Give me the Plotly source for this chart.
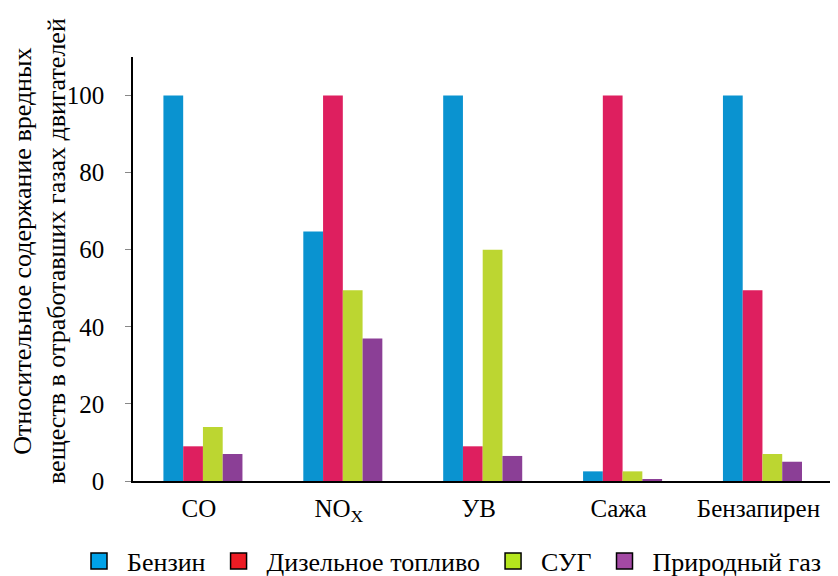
import plotly.graph_objects as go

categories = ["CO", "NO<sub>X</sub>", "УВ", "Сажа", "Бензапирен"]
series_names = ["Бензин", "Дизельное топливо", "СУГ", "Природный газ"]
benzin = [100, 64.7, 100, 2.5, 100]
diesel = [9, 100, 9, 100, 49.5]
sug = [14, 49.5, 60, 2.5, 7]
gas = [7, 37, 6.5, 0.4, 5]
y_ticks = [0, 20, 40, 60, 80, 100]

bar_colors = ["#0a93d0", "#de1f5f", "#bcd631", "#8b3f96"]
legend_colors = ["#00a2e8", "#ed1c24", "#b5e61d", "#a349a4"]
values = [benzin, diesel, sug, gas]

fig = go.Figure()
for name, vals, c in zip(series_names, values, bar_colors):
    fig.add_trace(go.Bar(x=list(range(len(categories))), y=vals, name=name,
                         marker=dict(color=c, line=dict(width=0)), showlegend=False))
for name, c in zip(series_names, legend_colors):
    fig.add_trace(go.Scatter(x=[None], y=[None], mode="markers", name=name,
                             marker=dict(symbol="square", size=19, color=c,
                                         line=dict(color="black", width=1.5))))

font_family = "Times New Roman, Liberation Serif, serif"
# page has an 8px body margin: figure coords = page coords - 8
W, H = 830, 568
L, R, T, B = 125, 0, 49, 95
PW, PH = W - L - R, H - T - B
fig.update_layout(
    width=W, height=H,
    margin=dict(l=L, r=R, t=T, b=B, autoexpand=False),
    paper_bgcolor="white", plot_bgcolor="white",
    barmode="group", bargap=0.435, bargroupgap=0,
    font=dict(family=font_family, size=25, color="black"),
    showlegend=True,
    legend=dict(orientation="h", x=(63 - L) / PW, xanchor="left",
                y=-(553 - (H - B)) / PH, yanchor="middle",
                font=dict(family=font_family, size=26), itemwidth=46,
                tracegroupgap=0, bgcolor="rgba(0,0,0,0)"),
    xaxis=dict(range=[-0.5, 4.54], tickmode="array",
               tickvals=list(range(len(categories))), ticktext=categories,
               showline=True, linecolor="black", linewidth=1.5, ticks="",
               showgrid=False, zeroline=False, ticklabelstandoff=4,
               ticklabelshift=-4,
               tickfont=dict(family=font_family, size=25)),
    yaxis=dict(range=[0, 110], tickmode="array", tickvals=y_ticks,
               showline=True, linecolor="black", linewidth=1.5,
               ticks="outside", ticklen=6, tickcolor="#888", showgrid=False, zeroline=False,
               ticklabelstandoff=16,
               tickfont=dict(family=font_family, size=25)),
    annotations=[dict(text="Относительное содержание вредных<br>веществ в отработавших газах двигателей",
                      textangle=-90, x=(32 - L) / PW, xref="paper", xanchor="center",
                      y=((H - B) - 243) / PH, yref="paper", yanchor="middle",
                      showarrow=False, font=dict(family=font_family, size=26))],
)
fig.write_html("out.html")
